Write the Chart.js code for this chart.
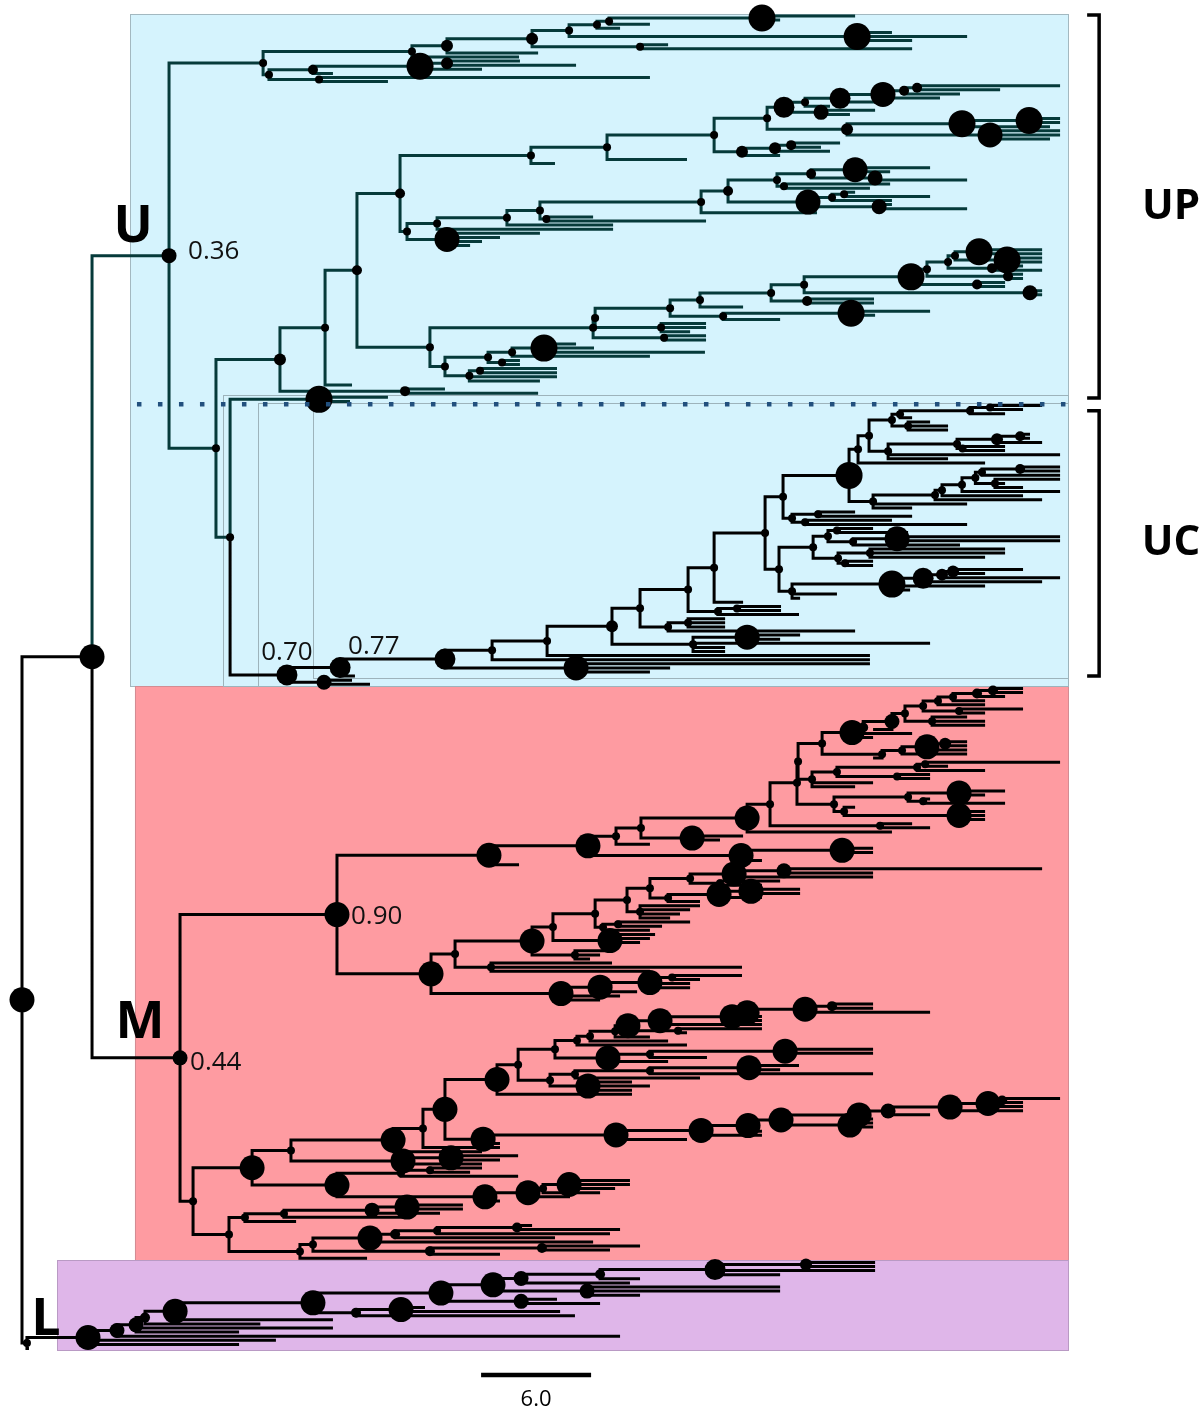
<!DOCTYPE html>
<html lang="en">
<head>
<meta charset="utf-8">
<title>Phylogeny</title>
<script src="https://cdn.jsdelivr.net/npm/chart.js@4.4.1/dist/chart.umd.min.js"></script>
<style>
  html, body { margin: 0; padding: 0; background: #ffffff; }
  #frame { position: relative; width: 1204px; height: 1412px; }
</style>
</head>
<body>
<div id="frame"><canvas id="tree"></canvas></div>
<script>
// Tree data. An internal node is [depth, support class, ...children];
// a bare number is a tip and gives its depth. Depth is distance from the root.

// U clade, upper part
const upA = [13.15, 1,
  [21.27, 1,
    [23.18, 3,
      [27.82, 3,
        [29.84, 1,
          [31.36, 1,
            [32.02, 1,
              [40.36, 7, 45.44, 41.35],
              34.25],
            32.62],
          [45.55, 7, 47.45, 51.55, 48.55]],
        [33.71, 1, 35.24, 48.55]],
      28.15],
    27.11],
  [13.47, 1,
    [15.87, 2,
      [21.71, 7,
        [23.18, 3, 27.16, 30.22],
        25.09],
      16.96],
    [16.2, 1, 34.25, 19.96]]];

const upB = [27.76, 1,
  [31.91, 1,
    [37.75, 1,
      [40.64, 1,
        [41.56, 5,
          [42.71, 1,
            [44.62, 5,
              [46.96, 6,
                [48.11, 2,
                  [48.82, 2, 56.62, 53.35],
                  51.16],
                50.07],
              46.8],
            44.07],
          [43.58, 4, 46.53, 45.16]],
        [45.0, 3,
          [51.27, 7,
            [54.93, 7, 56.62, 56.62],
            56.07],
          [52.8, 6, 56.62, 56.62, 56.07]]],
      [39.27, 3,
        [41.07, 3,
          [41.95, 2, 44.62, 43.58],
          44.07],
        41.35]],
    36.27],
  29.07];

const upC = [21.0, 1,
  [22.64, 1,
    [26.45, 1,
      [28.25, 1,
        [37.04, 1,
          [38.51, 2,
            [41.18, 1,
              [43.04, 2,
                [45.44, 6, 49.53, 47.35],
                [46.53, 4, 46.8, 51.55]],
              [41.56, 1, 47.35, 46.25]],
            [42.87, 6,
              [44.18, 1,
                [44.84, 1, 45.44, 49.53],
                47.45],
              [46.75, 4, 47.45, 51.55]]],
          43.36],
        [28.6, 1, 31.15, 37.31]],
      32.24],
    32.24],
  [23.18, 6, 28.25, 26.07, 25.09, 24.44]];

const upD = [22.25, 1,
  [31.15, 1,
    [31.26, 1,
      [35.35, 1,
        [36.98, 1,
          [40.86, 1,
            [42.66, 1,
              [48.49, 7,
                [49.36, 1,
                  [50.51, 1,
                    [50.89, 1,
                      [52.2, 7, 55.64, 55.64],
                      [53.73, 7, 55.64, 55.64]],
                    [52.91, 2, 54.6, 55.64]],
                  [53.78, 2, 54.6, 54.6]],
                [52.09, 2, 53.62, 53.62]],
              [54.98, 4, 55.64, 55.64]],
            [42.82, 2, 46.47, 46.47]],
          39.33],
        [38.24, 1,
          [45.22, 7, 49.53, 46.53],
          41.35]],
      [34.86, 1, 37.31, 37.31, 36.44]],
    [35.02, 1, 37.31, 37.31]],
  [23.07, 1,
    [25.42, 1,
      [26.73, 1,
        [28.47, 7, 30.22, 31.2, 37.25],
        34.25],
      [26.18, 1, 27.16, 27.16]],
    [24.4, 1,
      [24.98, 1, 29.18, 29.18],
      29.18, 28.25]]];

const upE = [20.89, 2, 23.07, 28.15];
const upF = [16.2, 7, 19.96, 17.89];

// U clade, lower (UC) part
const ucUpper = [41.51, 1,
  [45.11, 7,
    [45.6, 1,
      [46.2, 1,
        [47.45, 1,
          [47.89, 1,
            [51.71, 1, [52.8, 1, 55.64, 54.6], 53.62],
            48.55],
          [48.33, 1, 49.53, 50.51, 50.51]],
        [47.24, 1,
          [51.0, 1,
            [53.18, 3, [54.44, 2, 54.98, 54.98], 55.64],
            [51.3, 1, 53.62, 53.62]],
          56.62, 50.51]],
      52.53],
    [46.42, 1,
      [49.8, 1,
        [50.18, 1,
          [51.27, 1,
            [52.0, 1,
              [52.36, 1, [54.44, 2, 56.62, 56.62], 56.62],
              [53.07, 1, 56.62, 53.62, 54.6]],
            56.62],
          54.6],
        55.64],
      51.55, 48.55]],
  [42.0, 1,
    [43.42, 1, 45.44, 48.55],
    [42.71, 1, 47.45, 51.55]]];

const ucLower = [41.29, 1,
  [43.15, 1,
    [43.96, 1,
      [44.45, 1, 46.42, 48.33],
      [45.33, 1, [47.73, 6, 56.62, 56.62], 51.16]],
    [44.51, 1,
      [46.25, 1, 53.62, 53.62, 52.53],
      [44.89, 1, 46.42, 46.42]]],
  [42.0, 1,
    [47.45, 7,
      [49.15, 5,
        [50.18, 3, [50.78, 3, 54.6, 52.53], 56.62],
        55.64],
      52.53, 48.44],
    44.45, 42.44]];

const ucInner = [17.35, 5,
  [23.07, 5,
    [25.64, 1,
      [28.64, 1,
        [32.18, 3,
          [33.71, 1,
            [36.33, 1,
              [37.75, 1,
                [40.53, 1, ucUpper, ucLower],
                39.33],
              [37.96, 1, [39.0, 1, 41.4, 41.4], 42.38]],
            [35.24, 1, [36.33, 1, 38.35, 38.35, 38.35], 45.44]],
          [36.6, 1, [39.55, 6, 42.44, 41.35], 49.53, 38.35, 38.35]],
        46.25],
      46.25],
    [30.22, 6, 46.25, 35.35, 34.25]],
  18.16];
const ucClade = [14.45, 5, ucInner, [16.47, 4, 18.0, 18.98]];

// M clade
const mTop = [25.47, 6,
  [30.87, 6,
    [32.4, 1,
      [33.76, 1,
        [39.55, 6,
          [40.8, 1,
            [42.27, 1,
              [42.33, 1,
                [43.64, 1,
                  [45.27, 6,
                    [45.88, 2,
                      [47.45, 4,
                        [48.16, 1,
                          [49.15, 1,
                            [49.96, 1,
                              [50.78, 1,
                                [52.09, 2, [52.96, 2, 54.6, 54.6], 53.62],
                                52.53],
                              52.53],
                            [51.11, 1, 54.6, 52.53]],
                          [49.64, 1, 51.55, 52.53, 52.53]],
                        46.42],
                      48.55],
                    46.42],
                  [46.91, 1,
                    [48.0, 1,
                      [49.36, 6, [50.35, 3, 51.55, 51.55], 51.55],
                      51.55],
                    46.42]],
                [43.09, 1,
                  [44.45, 1,
                    [48.82, 1, [49.26, 1, 56.62, 50.51], 52.53],
                    [47.73, 1, 49.53, 49.53]],
                  46.42, 45.44]],
              [44.29, 1,
                [48.33, 1,
                  [51.11, 6, 53.62, 52.53],
                  [49.15, 1, 49.53, 53.62]],
                [44.84, 1,
                  45.44,
                  [51.11, 6, 52.53, 52.53, 52.53]]]],
            [46.8, 1, 48.55, 49.53]],
          47.45],
        [36.55, 6, 39.33, 38.07]],
      34.25],
    [39.22, 6, [44.73, 6, 46.42, 46.42], 39.8, 40.36]],
  27.11];

const mMid = [22.31, 6,
  [23.62, 1,
    [27.82, 6,
      [28.96, 1,
        [31.26, 1,
          [33.0, 1,
            [34.25, 1,
              [36.44, 1,
                [38.84, 6, [41.56, 4, 55.64, 46.42], 46.42],
                [38.07, 1, 41.35, 40.36]],
              [35.24, 1,
                [38.02, 6, [39.76, 6, 42.44, 42.44], 40.36],
                36.98]],
            [33.71, 1, 36.98, 36.44, 35.89, 35.35]],
          [31.69, 1, [32.51, 1, 36.44, 34.91], 34.25]],
        [32.07, 6, 34.53, 34.25, 33.71, 32.62]],
      [30.16, 1, 32.18, 31.53, 30.98]],
    [25.58, 1, 32.18, 39.27, 34.25]],
  [29.4, 6,
    [31.53, 6,
      [34.25, 6, [35.46, 1, 39.27, 36.98], 36.44, 36.44],
      33.55],
    32.62, 31.53]];

const mLow = [9.33, 1,
  [12.55, 6,
    [14.67, 1,
      [20.24, 6,
        [21.87, 1,
          [23.07, 6,
            [25.91, 6,
              [27.06, 1,
                [29.07, 1,
                  [30.27, 1,
                    [30.98, 1,
                      [32.35, 1,
                        [33.05, 6,
                          [34.8, 6,
                            [38.73, 6,
                              [39.55, 6,
                                [42.71, 6, [44.18, 2, 46.42, 46.42], 49.53],
                                40.36],
                              40.36],
                            40.36],
                          [35.78, 1, 40.36, 36.27]],
                        34.25],
                      35.24],
                    36.27],
                  [31.96, 6,
                    [34.25, 1, [41.62, 6, 46.42, 46.42], 37.36],
                    35.24]],
                [28.8, 1,
                  [30.16, 1,
                    [34.25, 1, [39.65, 6, 42.38, 41.35], 46.42],
                    36.98],
                  [30.87, 6, 33.27, 34.25, 33.27]]],
              33.27],
            [25.15, 6,
              [32.4, 6,
                [37.04, 6,
                  [39.6, 6,
                    [41.4, 6,
                      [45.66, 6,
                        [47.24, 4,
                          [50.62, 6,
                            [52.69, 6, [53.46, 2, 56.62, 54.6], 54.6],
                            54.6],
                          49.53],
                        46.42],
                      [45.16, 6, 46.42, 46.42]],
                    40.36],
                  40.36],
                36.27],
              26.07]],
          26.07],
        25.09],
      [20.78, 6, [23.4, 6, 27.06, 26.07], 25.09]],
    [17.18, 6,
      [20.67, 1, [22.25, 1, 25.09, 24.44], 27.06],
      [25.25, 6, [27.6, 6, [28.42, 1, [29.84, 6, 33.16, 33.16, 32.35], 31.53], 29.89], 26.07]]],
  [11.29, 1,
    [12.16, 1,
      [14.29, 1, [19.09, 4, [21.0, 6, 24.05, 24.05], 22.8], 21.05],
      14.95],
    [15.16, 1,
      [15.87, 1,
        [18.98, 6,
          [20.35, 2,
            [22.64, 1, [27.0, 2, 27.82, 32.62], 32.07],
            29.07],
          31.15],
        [22.25, 2, [28.36, 2, 33.71, 32.07], 26.07]],
      18.82]]];

// L clade
const lClade = [0.27, 1,
  [3.6, 6,
    [5.18, 4,
      [6.22, 4,
        [6.71, 2,
          [8.35, 6,
            [15.87, 6,
              [22.85, 6,
                [25.69, 6,
                  [27.22, 4,
                    [31.53, 2,
                      [37.8, 5, [42.76, 3, 46.53, 46.53], 46.53, 41.35],
                      33.71],
                    33.16],
                  [30.82, 4, 41.35, 41.35, 33.71]],
                [27.22, 4, 29.18, 31.53]],
              [18.22, 2, [20.67, 6, 21.98, 29.35], 30.16]],
            16.96],
          13.0],
        16.96, 11.84],
      32.62],
    13.85, 11.84],
  0.38];

// backbone
const upStem = [14.07, 3,
  [16.53, 1,
    [18.27, 2,
      [20.62, 2, upB, upC],
      upD],
    18.0],
  upE];
const ucStem = [11.35, 1, upF, ucClade];
const uNode = [8.02, 4, upA, [10.58, 1, upStem, ucStem]];
const mUpper = [17.18, 6, mTop, mMid];
const mNode = [8.62, 4, mUpper, mLow];
const rootNode = [0, 6, [3.82, 6, uNode, mNode], lClade];

// posterior support shown at a few deep nodes
const supportNodes = [uNode, mNode, mUpper, ucClade, ucInner];
const supportValues = ['0.36', '0.44', '0.90', '0.70', '0.77'];
const cladeNodes = [uNode, mNode, lClade];
const cladeNames = ['U', 'M', 'L'];
const groupNames = ['UP', 'UC'];
const groupRows = [[-0.25, 93.2], [96.3, 161]];
const scaleLength = 6.0;

// ---- layout ----
const dotRadius = [0, 4, 5, 6, 7.5, 10.5, 12.5, 13.5];
const TEAL = '#063a3a';
let nextRow = 0;
const span = new Map();

function place(node) {
  if (typeof node === 'number') {
    const row = nextRow++;
    return { x: node, y: row, first: row, last: row };
  }
  const kids = node.slice(2).map(place);
  const p = {
    x: node[0], cls: node[1], src: node, kids,
    y: (kids[0].y + kids[kids.length - 1].y) / 2,
    first: kids[0].first, last: kids[kids.length - 1].last
  };
  span.set(node, p);
  return p;
}
const root = place(rootNode);
const nTips = nextRow;

const tealPath = [], blackPath = [], nodeDots = [];
function walk(p, colour) {
  if (!p.kids) return;
  nodeDots.push({ x: p.x, y: p.y, r: dotRadius[p.cls] });
  for (const k of p.kids) {
    let c = colour;
    if (k.src === uNode) c = 'teal';
    if (k.src === ucClade) c = 'black';
    const path = c === 'teal' ? tealPath : blackPath;
    path.push({ x: p.x, y: p.y }, { x: p.x, y: k.y }, { x: k.x, y: k.y }, { x: null, y: null });
    walk(k, c);
  }
}
walk(root, 'black');

// axis ranges: tips from 16px to 1348.5px, root at 22px, 18.33px per unit
const rowPx = (1348.5 - 16) / (nTips - 1);
const yMin = -16 / rowPx;
const yMax = (nTips - 1) + (1412 - 1348.5) / rowPx;
const X_MIN = -1.2, X_MAX = 64.47;
const BOX_END = 57.06;

const highlights = [
  { clade: uNode, from: 5.89, fill: '#d5f3fd', edge: '#a3b8c0' },
  { clade: mNode, from: 6.16, fill: '#fe9ba1', edge: '#d38c93' },
  { clade: lClade, from: 1.91, fill: '#dfb6e9', edge: '#b99ac4' }
];
const outlines = [
  { clade: ucStem, from: 10.96 },
  { clade: ucClade, from: 12.87 },
  { clade: ucInner, from: 15.87 }
];

const decor = {
  id: 'decor',
  beforeDatasetsDraw(chart) {
    const { ctx, scales: { x, y } } = chart;
    ctx.save();
    const xe = x.getPixelForValue(BOX_END);
    highlights.forEach(h => {
      const s = span.get(h.clade);
      const x0 = x.getPixelForValue(h.from);
      const y0 = y.getPixelForValue(s.first - 0.5), y1 = y.getPixelForValue(s.last + 0.5);
      ctx.fillStyle = h.fill;
      ctx.fillRect(x0, y0, xe - x0, y1 - y0);
      ctx.strokeStyle = h.edge;
      ctx.lineWidth = 1;
      ctx.strokeRect(Math.round(x0) + 0.5, Math.round(y0) + 0.5, Math.round(xe - x0), Math.round(y1 - y0));
    });
    ctx.strokeStyle = '#9db3bb';
    ctx.lineWidth = 1;
    outlines.forEach(o => {
      const s = span.get(o.clade);
      const x0 = x.getPixelForValue(o.from);
      const y0 = y.getPixelForValue(s.first - 0.5), y1 = y.getPixelForValue(s.last + 0.5);
      ctx.strokeRect(Math.round(x0) + 0.5, Math.round(y0) + 0.5, Math.round(xe - x0), Math.round(y1 - y0));
    });
    ctx.restore();
  },
  afterDatasetsDraw(chart) {
    const { ctx, scales: { x, y } } = chart;
    ctx.save();

    // dotted divider between UP and UC
    const dy = y.getPixelForValue(94.7);
    ctx.strokeStyle = '#22507e';
    ctx.lineWidth = 4.5;
    ctx.setLineDash([4.5, 16.5]);
    ctx.beginPath();
    ctx.moveTo(x.getPixelForValue(6.27), dy);
    ctx.lineTo(x.getPixelForValue(BOX_END), dy);
    ctx.stroke();
    ctx.setLineDash([]);

    // brackets on the right
    const bx = x.getPixelForValue(58.75);
    ctx.strokeStyle = '#000';
    ctx.lineWidth = 3.5;
    ctx.fillStyle = '#000';
    ctx.font = 'bold 42px "Open Sans", sans-serif';
    ctx.textAlign = 'center';
    ctx.textBaseline = 'middle';
    groupRows.forEach((g, i) => {
      const y0 = y.getPixelForValue(g[0]), y1 = y.getPixelForValue(g[1]);
      ctx.beginPath();
      ctx.moveTo(bx - 12, y0);
      ctx.lineTo(bx, y0);
      ctx.lineTo(bx, y1);
      ctx.lineTo(bx - 12, y1);
      ctx.stroke();
      ctx.fillText(groupNames[i], bx + 72, (y0 + y1) / 2);
    });

    // clade letters
    const letterOffset = [[-36, -28], [-40, -35], [19, -23]];
    ctx.font = 'bold 52px "Open Sans", sans-serif';
    cladeNodes.forEach((n, i) => {
      const p = span.get(n);
      ctx.fillText(cladeNames[i], x.getPixelForValue(p.x) + letterOffset[i][0], y.getPixelForValue(p.y) + letterOffset[i][1]);
    });

    // support values
    const labelOffset = [[19, -4, 'left'], [10, 5, 'left'], [14, 2, 'left'], [0, -22, 'center'], [8, -21, 'left']];
    ctx.font = '26px "Open Sans", sans-serif';
    ctx.fillStyle = '#111';
    supportNodes.forEach((n, i) => {
      const p = span.get(n);
      const o = labelOffset[i];
      ctx.textAlign = o[2];
      ctx.fillText(supportValues[i], x.getPixelForValue(p.x) + o[0], y.getPixelForValue(p.y) + o[1]);
    });

    // scale bar
    const sy = y.getPixelForValue(nTips - 1 + 6.45);
    const sx0 = x.getPixelForValue(25.04), sx1 = x.getPixelForValue(25.04 + scaleLength);
    ctx.strokeStyle = '#000';
    ctx.lineWidth = 4.5;
    ctx.beginPath();
    ctx.moveTo(sx0, sy);
    ctx.lineTo(sx1, sy);
    ctx.stroke();
    ctx.textAlign = 'center';
    ctx.font = '22px "Open Sans", sans-serif';
    ctx.fillStyle = '#000';
    ctx.fillText(scaleLength.toFixed(1), (sx0 + sx1) / 2, sy + 25);
    ctx.restore();
  }
};

const lineStyle = { type: 'line', borderWidth: 3, pointRadius: 0, spanGaps: false, tension: 0, borderJoinStyle: 'miter', fill: false };

new Chart(document.getElementById('tree'), {
  type: 'scatter',
  data: {
    datasets: [
      Object.assign({ data: tealPath, borderColor: TEAL, order: 2 }, lineStyle),
      Object.assign({ data: blackPath, borderColor: '#000', order: 1 }, lineStyle),
      { type: 'bubble', data: nodeDots, backgroundColor: '#000', borderWidth: 0, order: 0 }
    ]
  },
  options: {
    animation: false,
    responsive: true,
    maintainAspectRatio: false,
    devicePixelRatio: 1,
    events: [],
    layout: { padding: 0, autoPadding: false },
    plugins: { legend: { display: false }, tooltip: { enabled: false } },
    scales: {
      x: { type: 'linear', min: X_MIN, max: X_MAX, display: false },
      y: { type: 'linear', min: yMin, max: yMax, reverse: true, display: false }
    }
  },
  plugins: [decor]
});
</script>
</body>
</html>
